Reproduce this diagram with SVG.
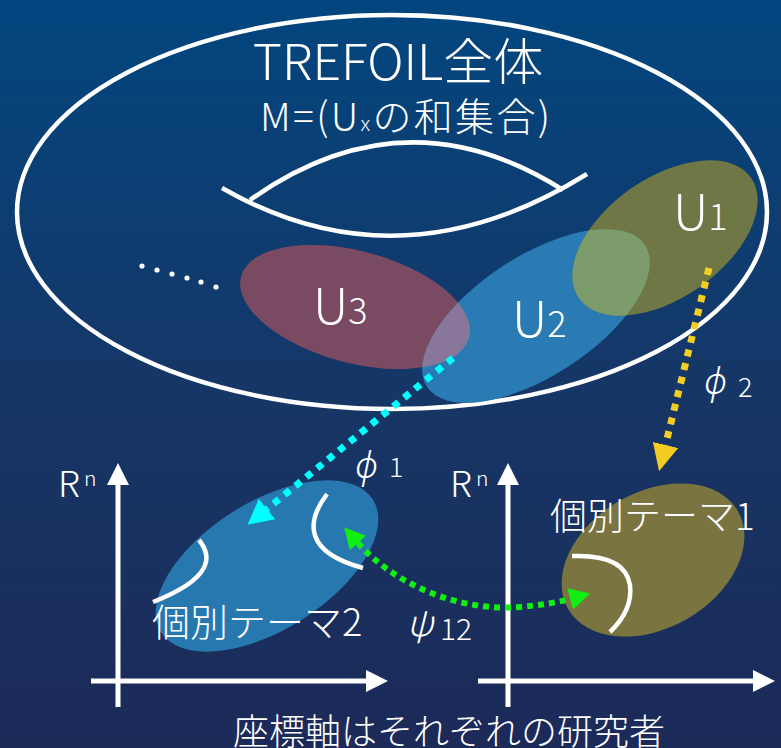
<svg xmlns="http://www.w3.org/2000/svg" width="781" height="748" viewBox="0 0 781 748">
<defs>
<linearGradient id="bg" x1="0" y1="0" x2="0" y2="1">
<stop offset="0" stop-color="#02467f"/>
<stop offset="0.53" stop-color="#163666"/>
<stop offset="1" stop-color="#1c2a58"/>
</linearGradient>
<marker id="hw" markerUnits="userSpaceOnUse" viewBox="0 0 22 22" markerWidth="22" markerHeight="22" refX="0" refY="11" orient="auto"><path d="M0,0 L22,11 L0,22 z" fill="#fff"/></marker>
<marker id="hc" markerUnits="userSpaceOnUse" viewBox="0 0 25 26" markerWidth="25" markerHeight="26" refX="0" refY="13" orient="auto"><path d="M0,0 L25,13 L0,26 z" fill="#00ffff"/></marker>
<marker id="hy" markerUnits="userSpaceOnUse" viewBox="0 0 27 26" markerWidth="27" markerHeight="26" refX="0" refY="13" orient="auto"><path d="M0,0 L27,13 L0,26 z" fill="#f4cd22"/></marker>
<marker id="hg" markerUnits="userSpaceOnUse" viewBox="0 0 21 22" markerWidth="21" markerHeight="22" refX="0" refY="11" orient="auto-start-reverse"><path d="M0,0 L21,11 L0,22 z" fill="#11ee11"/></marker>
<ellipse id="e3" cx="355" cy="307" rx="118" ry="56" transform="rotate(15 355 307)"/>
<ellipse id="e2" cx="536" cy="316" rx="130" ry="60" transform="rotate(-33 536 316)"/>
<ellipse id="e1" cx="665" cy="238" rx="105" ry="60" transform="rotate(-35 665 238)"/>
<clipPath id="c3"><use href="#e3"/></clipPath>
<clipPath id="c2"><use href="#e2"/></clipPath>
</defs>
<style>
text{font-family:"Noto Sans CJK JP","Noto Sans",sans-serif;font-weight:300;fill:#fff}
.w{fill:none;stroke:#fff;stroke-width:4.5}
.ax{fill:none;stroke:#fff;stroke-width:5}
.it{font-style:italic}
</style>
<rect width="781" height="748" fill="url(#bg)"/>

<g id="trefoil">
<ellipse cx="392" cy="212" rx="375" ry="197" class="w" stroke-width="5"/>
<path d="M222,188 Q400,290 587,174" class="w"/>
<path d="M250,200 Q405,90 563,190" class="w"/>
<text x="398" y="80" font-size="50" text-anchor="middle">TREFOIL全体</text>
<text x="260" y="131" font-size="39" textLength="290" lengthAdjust="spacing">M=(U<tspan font-size="21">x</tspan>の和集合)</text>
<g fill="#fff"><circle cx="142" cy="266" r="2.6"/><circle cx="157" cy="270" r="2.6"/><circle cx="172" cy="274" r="2.6"/><circle cx="187" cy="278" r="2.6"/><circle cx="201" cy="282" r="2.6"/><circle cx="216" cy="287" r="2.6"/></g>
</g>

<g id="U3">
<use href="#e3" fill="#7a4a62"/>
</g>
<g id="U2">
<use href="#e2" fill="#2a7ab4"/>
<g clip-path="url(#c3)"><use href="#e2" fill="#88779a"/></g>
</g>
<g id="U1">
<use href="#e1" fill="#6f7746"/>
<g clip-path="url(#c2)"><use href="#e1" fill="#7d9c6c"/></g>
</g>
<g id="labels-U">
<text x="313" y="324" font-size="50">U<tspan font-size="36">3</tspan></text>
<text x="512" y="337" font-size="50">U<tspan font-size="36">2</tspan></text>
<text x="673" y="230" font-size="50">U<tspan font-size="36">1</tspan></text>
</g>

<g id="chart-left">
<line x1="118" y1="707" x2="118" y2="485" class="ax" marker-end="url(#hw)"/>
<line x1="91" y1="681" x2="366" y2="681" class="ax" marker-end="url(#hw)"/>
<text x="58" y="497" font-size="36">R</text><text x="84" y="486" font-size="21">n</text>
</g>
<g id="chart-right">
<line x1="508" y1="707" x2="508" y2="485" class="ax" marker-end="url(#hw)"/>
<line x1="478" y1="681" x2="753" y2="681" class="ax" marker-end="url(#hw)"/>
<text x="450" y="497" font-size="36">R</text><text x="476" y="486" font-size="21">n</text>
</g>

<g id="theme2">
<ellipse cx="267" cy="566" rx="125" ry="64" transform="rotate(-32 267 566)" fill="#2878b0"/>
<path d="M199,540 C212,556 214,578 153,602" class="w"/>
<path d="M327,494 C306,522 304,552 363,568" class="w"/>
<text x="152" y="636" font-size="38">個別テーマ2</text>
</g>
<g id="theme1">
<ellipse cx="653" cy="560" rx="98" ry="68" transform="rotate(-30 653 560)" fill="#7a7440"/>
<path d="M572,556 Q625,554 630,585 Q633,610 610,632" class="w"/>
<text x="550" y="530" font-size="37">個別テーマ1</text>
</g>

<g id="connectors">
<line x1="453" y1="358" x2="267" y2="509" stroke="#00ffff" stroke-width="7" stroke-dasharray="7 7" marker-end="url(#hc)"/>
<line x1="709" y1="268" x2="665.5" y2="445" stroke="#f4cd22" stroke-width="7" stroke-dasharray="7 7" marker-end="url(#hy)"/>
<path d="M358,543 C395,585 460,612 520,607 C540,605 555,603 570,599" fill="none" stroke="#11ee11" stroke-width="6" stroke-dasharray="6 5" marker-start="url(#hg)" marker-end="url(#hg)"/>
</g>

<g id="connector-labels">
<text x="355" y="478" font-size="36" class="it">ϕ</text><text x="389" y="477" font-size="27">1</text>
<text x="704" y="394" font-size="36" class="it">ϕ</text><text x="738" y="397" font-size="27">2</text>
<text x="407" y="636" font-size="36" class="it">ψ</text><text x="440" y="640" font-size="30">12</text>
</g>

<text x="233" y="745" font-size="36">座標軸はそれぞれの研究者</text>
</svg>
